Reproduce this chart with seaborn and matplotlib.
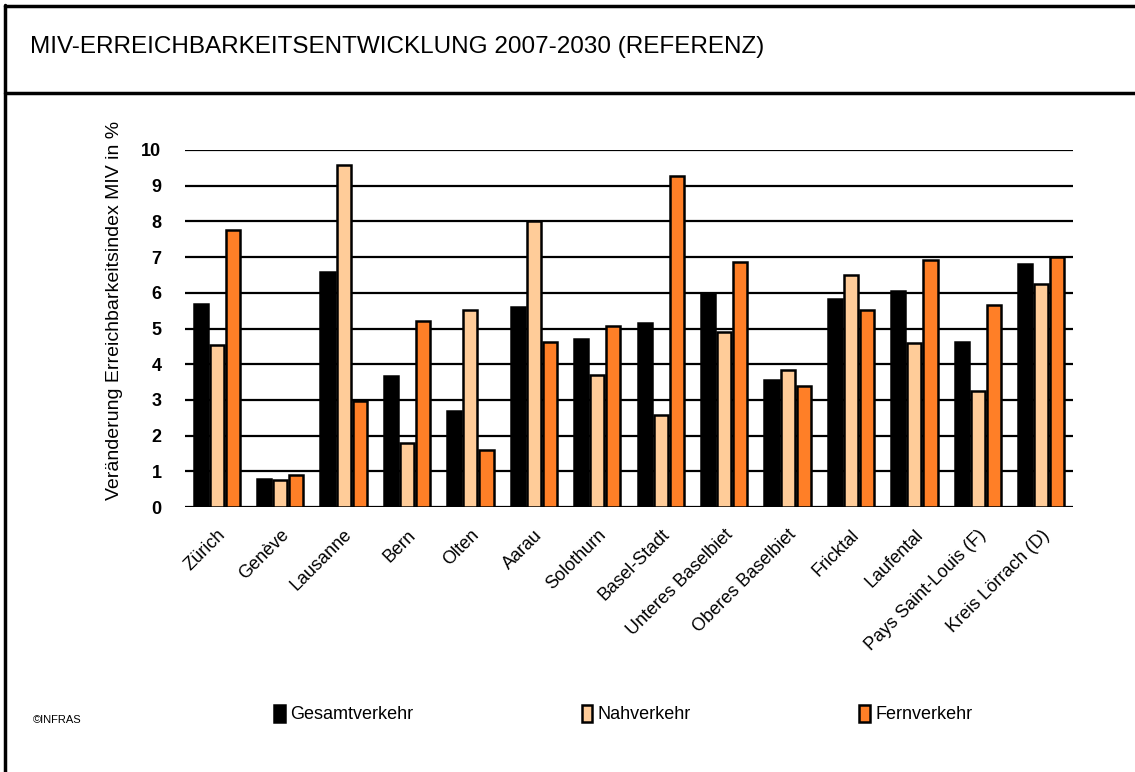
import matplotlib
matplotlib.use("Agg")
import matplotlib.pyplot as plt
from matplotlib import font_manager
from matplotlib.lines import Line2D
import seaborn as sns
import pandas as pd

regions = ["Zürich", "Genève", "Lausanne", "Bern", "Olten", "Aarau", "Solothurn",
           "Basel-Stadt", "Unteres Baselbiet", "Oberes Baselbiet", "Fricktal",
           "Laufental", "Pays Saint-Louis (F)", "Kreis Lörrach (D)"]
gesamtverkehr = [5.68, 0.79, 6.58, 3.66, 2.68, 5.61, 4.70, 5.15, 6.00, 3.57, 5.83, 6.05, 4.62, 6.80]
nahverkehr = [4.53, 0.75, 9.58, 1.80, 5.51, 8.00, 3.69, 2.57, 4.89, 3.85, 6.49, 4.60, 3.25, 6.25]
fernverkehr = [7.77, 0.91, 2.96, 5.21, 1.59, 4.62, 5.07, 9.26, 6.86, 3.40, 5.51, 6.93, 5.66, 7.01]
series_names = ["Gesamtverkehr", "Nahverkehr", "Fernverkehr"]
colors = ["#000000", "#FFCC99", "#FF7F27"]
yticks = list(range(0, 11))
title = "MIV-ERREICHBARKEITSENTWICKLUNG 2007-2030 (REFERENZ)"
ylabel = "Veränderung Erreichbarkeitsindex MIV in %"

sns.set_theme(style="white")
available = {f.name for f in font_manager.fontManager.ttflist}
narrow = "Liberation Sans Narrow" if "Liberation Sans Narrow" in available else "Liberation Sans"
plt.rcParams["font.family"] = ["Liberation Sans", "DejaVu Sans"]
plt.rcParams["text.color"] = "black"
plt.rcParams["axes.labelcolor"] = "black"
plt.rcParams["xtick.color"] = "black"
plt.rcParams["ytick.color"] = "black"

rows = []
for name, vals in zip(series_names, [gesamtverkehr, nahverkehr, fernverkehr]):
    for r, v in zip(regions, vals):
        rows.append({"Region": r, "Serie": name, "Wert": v})
df = pd.DataFrame(rows)

fig = plt.figure(figsize=(11.35, 7.72), dpi=100)
fig.patch.set_facecolor("white")
ax = fig.add_axes([185 / 1135, 1 - 507 / 772, (1073 - 185) / 1135, (507 - 150) / 772])

# gridlines
for t in yticks:
    ax.axhline(t, color="black", lw=1.6, zorder=0)

sns.barplot(data=df, x="Region", y="Wert", hue="Serie", hue_order=series_names,
            palette=colors, width=0.76, gap=0.12, edgecolor="black", linewidth=1.8,
            saturation=1, legend=False, ax=ax, zorder=2)

ax.set_ylim(0, 10)
ax.set_xlim(-0.5, len(regions) - 0.5)
ax.set_yticks(yticks)
ax.set_yticklabels([str(t) for t in yticks], fontsize=13, fontweight="bold",
                   family="Liberation Sans", color="black")
ax.tick_params(axis="y", length=0, pad=17)
ax.tick_params(axis="x", length=0, pad=14)
ax.set_xticks(range(len(regions)))
ax.set_xticklabels(regions, rotation=45, ha="right", rotation_mode="anchor",
                   fontsize=13, family=narrow, color="black")
ax.set_xlabel("")
ax.set_ylabel("")
for s in ax.spines.values():
    s.set_visible(False)
ax.set_facecolor("white")

fig.text(115 / 1135, 1 - 310 / 772, ylabel, rotation=90, ha="center", va="center",
         fontsize=14, family=narrow, color="black")

# title and frame
fig.text(30 / 1135, 1 - 47 / 772, title, ha="left", va="center", fontsize=17.5,
         family=narrow, color="black")
fig.add_artist(Line2D([5 / 1135, 5 / 1135], [0, 1 - 5 / 772], color="black", lw=2.5,
                      transform=fig.transFigure))
fig.add_artist(Line2D([5 / 1135, 1], [1 - 6 / 772, 1 - 6 / 772], color="black", lw=2.5,
                      transform=fig.transFigure))
fig.add_artist(Line2D([5 / 1135, 1], [1 - 93 / 772, 1 - 93 / 772], color="black", lw=2.5,
                      transform=fig.transFigure))

# legend
handles = [plt.Rectangle((0, 0), 1, 1, facecolor=c, edgecolor="black", lw=1.8)
           for c in colors]
leg = fig.legend(handles, series_names, loc="center left",
                 bbox_to_anchor=(258 / 1135, 1 - 714 / 772), ncol=3, frameon=False,
                 handlelength=0.6, handleheight=1.1, handletextpad=0.3,
                 columnspacing=9.3, prop={"family": narrow, "size": 13})
for txt in leg.get_texts():
    txt.set_color("black")

fig.text(33 / 1135, 1 - 720 / 772, "©INFRAS", ha="left", va="center", fontsize=8,
         family=narrow, color="black")

fig.savefig("out.png", dpi=100, facecolor="white")
